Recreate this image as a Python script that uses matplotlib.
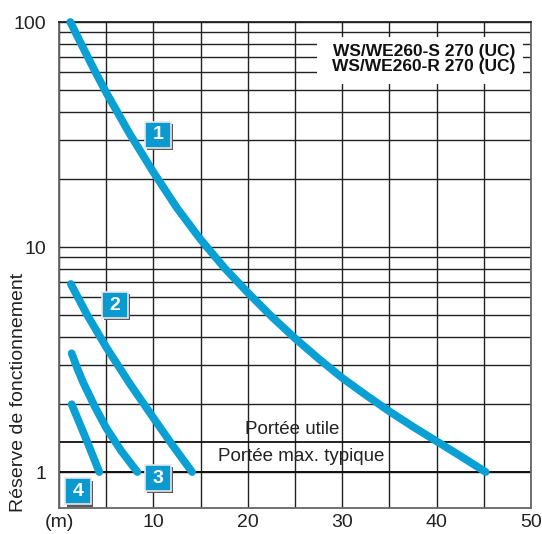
import matplotlib
matplotlib.use("Agg")
import matplotlib.pyplot as plt
import matplotlib.transforms as mtransforms
from matplotlib.ticker import FixedLocator, NullFormatter

plt.rcParams['font.family'] = ['Liberation Sans', 'DejaVu Sans']

# ---- data ----
c1_x = [1.2, 2.5, 3.75, 5.0, 7.5, 10.0, 12.5, 15.0, 17.5, 20.0, 22.5, 25.0,
        27.5, 30.0, 32.5, 35.0, 37.5, 40.0, 42.5, 45.2]
c1_y = [100, 77.6, 61.1, 48.6, 31.8, 21.5, 14.9, 10.8, 8.1, 6.27, 4.92, 3.93,
        3.19, 2.62, 2.2, 1.86, 1.59, 1.37, 1.18, 1.0]
c2_x = [1.25, 3.0, 5.0, 7.5, 10.0, 12.0, 14.1]
c2_y = [6.85, 4.98, 3.59, 2.47, 1.74, 1.32, 1.0]
c3_x = [1.34, 1.95, 2.58, 3.8, 5.0, 6.6, 8.3]
c3_y = [3.37, 2.88, 2.49, 1.95, 1.57, 1.24, 1.0]
c4_x = [1.34, 2.2, 3.0, 4.27]
c4_y = [2.0, 1.64, 1.36, 1.0]
curves = [(c1_x, c1_y), (c2_x, c2_y), (c3_x, c3_y), (c4_x, c4_y)]

label_names = ["1", "2", "3", "4"]
label_x = [10.5, 5.93, 10.5, 2.0]
label_y = [31.5, 5.52, 0.94, 0.82]

x_ticks = [0, 10, 20, 30, 40, 50]
x_ticklabels = ["(m)", "10", "20", "30", "40", "50"]
x_minor = [5, 15, 25, 35, 45]
y_ticks = [1, 10, 100]
y_ticklabels = ["1", "10", "100"]
y_minor = [2, 3, 4, 5, 6, 7, 8, 9, 20, 30, 40, 50, 60, 70, 80, 90]

range_line_y = 1.36
range_texts = ["Portée utile", "Portée max. typique"]
range_text_x = [24.7, 25.7]
range_text_y = [1.55, 1.17]

header_lines = ["WS/WE260-S 270 (UC)", "WS/WE260-R 270 (UC)"]
header_y = [73.8, 63.2]

ylabel = "Réserve de fonctionnement"

# ---- figure ----
W, H = 542, 534
fig = plt.figure(figsize=(W / 100, H / 100), dpi=100)
ax = fig.add_axes([59 / W, (H - 508) / H, (531 - 59) / W, (508 - 22) / H])
ax.set_yscale('log')
ax.set_xlim(0, 50)
ax.set_ylim(0.692, 100)

ax.xaxis.set_major_locator(FixedLocator(x_ticks))
ax.xaxis.set_minor_locator(FixedLocator(x_minor))
ax.set_xticklabels(x_ticklabels)
ax.yaxis.set_major_locator(FixedLocator(y_ticks))
ax.yaxis.set_minor_locator(FixedLocator(y_minor))
ax.yaxis.set_minor_formatter(NullFormatter())
ax.set_yticklabels(y_ticklabels)
ax.tick_params(which='both', length=0)
ax.tick_params(axis='x', labelsize=14, pad=4, colors='#222222')
ax.tick_params(axis='y', labelsize=14, pad=9, colors='#222222')

ax.grid(True, which='both', color='#222222', linewidth=1.0, zorder=1)
ax.set_axisbelow(True)
for s in ax.spines.values():
    s.set_color('#666666')
    s.set_linewidth(1.3)
ax.spines['top'].set_color('#222222')

ax.axhline(range_line_y, color='#111111', lw=1.3, zorder=1.5)
ax.axhline(1.0, color='#111111', lw=1.4, zorder=1.5)

for t, tx, ty in zip(range_texts, range_text_x, range_text_y):
    ax.text(tx, ty, t, fontsize=13.5, ha='center', va='center', color='#222222',
            zorder=2)

# header white box
ax.fill_between([27.3, 49.2], 53, 85.8, color='white', zorder=1.8, linewidth=0)
for t, ty in zip(header_lines, header_y):
    ax.text(48.3, ty, t, fontsize=12.5, fontweight='bold', ha='right', va='center',
            color='#111111', zorder=2)

blue = '#0aa0d4'
for cx, cy in curves:
    ax.plot(cx, cy, color=blue, lw=5.6, solid_capstyle='round',
            solid_joinstyle='round', zorder=3, clip_on=False)

shadow_tr = mtransforms.offset_copy(ax.transData, fig=fig, x=1.6, y=-1.6, units='points')
for n, lx, ly in zip(label_names, label_x, label_y):
    ax.plot([lx], [ly], marker='s', ms=19, mfc='#5a5a5a', mec='#5a5a5a', mew=0,
            transform=shadow_tr, zorder=4, clip_on=False)
    ax.plot([lx], [ly], marker='s', ms=18.5, mfc='#0a9ad0', mec='#e6e6e6', mew=1.2,
            zorder=5, clip_on=False)
    ax.text(lx, ly, n, fontsize=14, fontweight='bold', color='white', ha='center',
            va='center', zorder=6)

fig.text(19 / W, (H - 392) / H, ylabel, rotation=90, fontsize=14, ha='center',
         va='center', color='#222222')

fig.savefig('out.png', dpi=100)
